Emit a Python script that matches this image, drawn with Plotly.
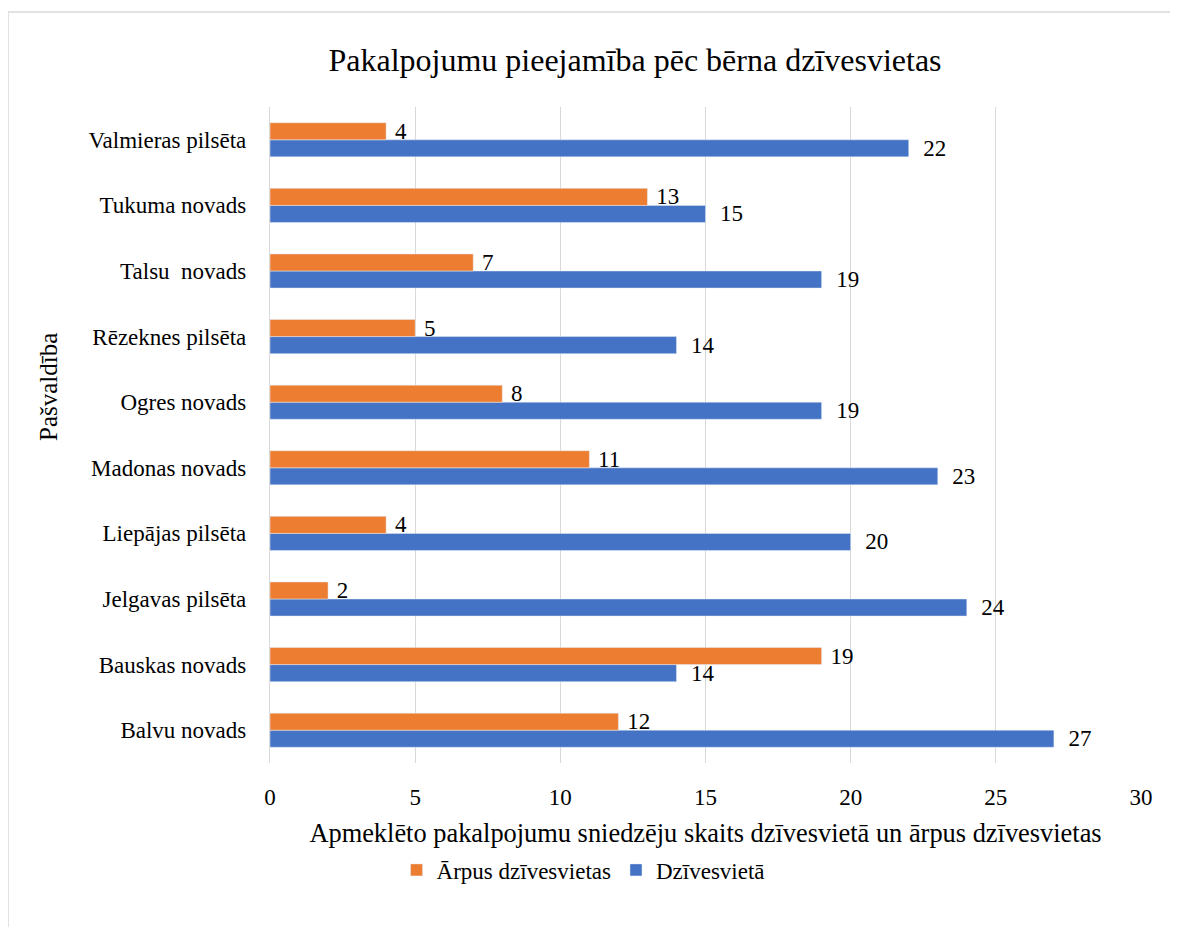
import plotly.graph_objects as go

categories = ["Balvu novads", "Bauskas novads", "Jelgavas pilsēta", "Liepājas pilsēta",
              "Madonas novads", "Ogres novads", "Rēzeknes pilsēta", "Talsu  novads",
              "Tukuma novads", "Valmieras pilsēta"]
arpus = [12, 19, 2, 4, 11, 8, 5, 7, 13, 4]
dzivesvieta = [27, 14, 24, 20, 23, 19, 14, 19, 15, 22]

FONT = "Liberation Serif, Times New Roman, serif"
ORANGE = "#ED7D31"
BLUE = "#4472C4"
LBL = 23

fig = go.Figure()
fig.add_trace(go.Bar(
    y=categories, x=dzivesvieta, orientation="h", name="Dzīvesvietā",
    marker=dict(color=BLUE), text=dzivesvieta, textposition="outside",
    texttemplate="\u00a0\u00a0%{x}", constraintext="none",
    textfont=dict(family=FONT, size=LBL, color="#000000"), cliponaxis=False,
    legendrank=2,
))
fig.add_trace(go.Bar(
    y=categories, x=arpus, orientation="h", name="Ārpus dzīvesvietas",
    marker=dict(color=ORANGE), text=arpus, textposition="outside",
    texttemplate="\u00a0%{x}", constraintext="none",
    textfont=dict(family=FONT, size=LBL, color="#000000"), cliponaxis=False,
    legendrank=1,
))

fig.update_layout(
    width=1178, height=927,
    margin=dict(l=262, r=45, t=99, b=172),
    paper_bgcolor="white", plot_bgcolor="white",
    font=dict(family=FONT, size=23, color="#000000"),
    barmode="group", bargap=0.48, bargroupgap=0,
    title=dict(text="Pakalpojumu pieejamība pēc bērna dzīvesvietas",
               x=627/1178, xanchor="center", y=1-52/927, yanchor="middle",
               font=dict(family=FONT, size=32, color="#000000")),
    legend=dict(orientation="h", x=0.36, xanchor="center", y=-0.163, yanchor="middle",
                font=dict(family=FONT, size=23), itemwidth=30,
                traceorder="normal"),
    xaxis=dict(range=[0, 30], dtick=5, showgrid=True, gridcolor="#d9d9d9", gridwidth=1.3,
               zeroline=False, showline=False, ticks="", ticklabelstandoff=18,
               tickfont=dict(family=FONT, size=23),
               title=dict(text="Apmeklēto pakalpojumu sniedzēju skaits dzīvesvietā un ārpus dzīvesvietas",
                          font=dict(family=FONT, size=26.4), standoff=14)),
    yaxis=dict(showgrid=False, showline=True, linecolor="#d9d9d9", linewidth=1.3,
               ticks="", ticklabelstandoff=18, tickfont=dict(family=FONT, size=23),
               autorange=True),
    showlegend=True,
)

fig.add_annotation(text="Pašvaldība", xref="paper", yref="paper",
                   x=(48-270)/871, y=(763-387)/656, textangle=-90,
                   showarrow=False, font=dict(family=FONT, size=25),
                   xanchor="center", yanchor="middle")

# chart border (left and top visible)
fig.add_shape(type="line", xref="paper", yref="paper",
              x0=(8-270)/871, x1=(1200-270)/871, y0=(763-12)/656, y1=(763-12)/656,
              line=dict(color="#d9d9d9", width=1.5))
fig.add_shape(type="line", xref="paper", yref="paper",
              x0=(8-270)/871, x1=(8-270)/871, y0=(763-12)/656, y1=(763-960)/656,
              line=dict(color="#d9d9d9", width=1.5))

fig.write_html("out.html")
